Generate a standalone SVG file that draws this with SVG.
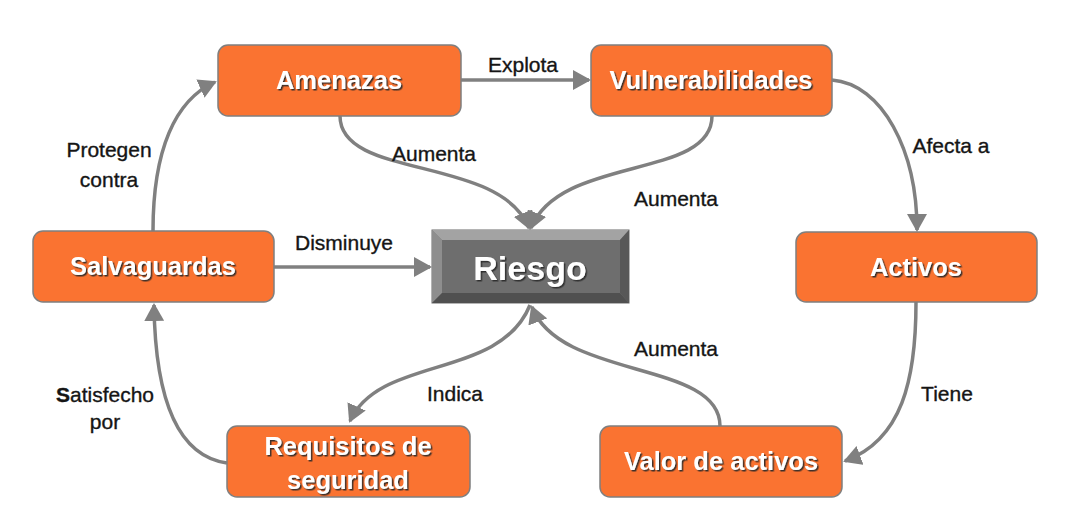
<svg xmlns="http://www.w3.org/2000/svg" width="1067" height="532" viewBox="0 0 1067 532">
  <defs>
    <style>
      .box { fill: #FA7331; stroke: #7f7f7f; stroke-width: 1.5; }
      .nt { font-family: "Liberation Sans", Arial, sans-serif; font-weight: bold; font-size: 25.5px; fill: #ffffff; text-anchor: middle; filter: url(#sh); }
      .lbl { font-family: "Liberation Sans", Arial, sans-serif; font-size: 21px; fill: #151515; stroke: #151515; stroke-width: 0.35; text-anchor: middle; }
      .con { fill: none; stroke: #808080; stroke-width: 3.5; marker-end: url(#ah); }
    </style>
    <filter id="sh" x="-10%" y="-30%" width="120%" height="160%">
      <feDropShadow dx="1.5" dy="1.5" stdDeviation="0.6" flood-color="#2a2a2a" flood-opacity="0.9"/>
    </filter>
    <marker id="ah" viewBox="0 0 18 20" refX="16" refY="10" markerWidth="18" markerHeight="20" markerUnits="userSpaceOnUse" orient="auto">
      <path d="M0,0 L18,10 L0,20 z" fill="#808080"/>
    </marker>
  </defs>
  <rect width="1067" height="532" fill="#ffffff"/>

  <g id="connectors">
    <path class="con" d="M461,80 L589,80"/>
    <path class="con" d="M832,80 C 882,84 917,150 917,230"/>
    <path class="con" d="M916,302 C 916,380 902,440 845,461"/>
    <path class="con" d="M720,426 C 720,360 560,380 532,307"/>
    <path class="con" d="M530,305 C 500,380 380,355 350,421"/>
    <path class="con" d="M227,463 C 170,455 155,380 154,305"/>
    <path class="con" d="M153,231 C 153,150 175,100 215,82"/>
    <path class="con" d="M274,267 L430,267"/>
    <path class="con" d="M340,116 C 340,180 500,155 529,228"/>
    <path class="con" d="M712,116 C 712,180 560,155 531,228"/>
    <text class="lbl" x="523" y="72">Explota</text>
    <text class="lbl" x="434" y="161">Aumenta</text>
    <text class="lbl" x="676" y="206">Aumenta</text>
    <text class="lbl" x="951" y="153">Afecta a</text>
    <text class="lbl" x="344" y="250">Disminuye</text>
    <text class="lbl" x="109" y="157">Protegen</text>
    <text class="lbl" x="109" y="187">contra</text>
    <text class="lbl" x="105" y="402"><tspan font-weight="bold">S</tspan>atisfecho</text>
    <text class="lbl" x="105" y="429">por</text>
    <text class="lbl" x="455" y="401">Indica</text>
    <text class="lbl" x="676" y="356">Aumenta</text>
    <text class="lbl" x="947" y="401">Tiene</text>
  </g>

  <g id="amenazas">
    <rect class="box" x="218" y="45" width="243" height="71" rx="10"/>
    <text class="nt" x="339" y="89">Amenazas</text>
  </g>
  <g id="vulnerabilidades">
    <rect class="box" x="591" y="45" width="241" height="71" rx="10"/>
    <text class="nt" x="711" y="89">Vulnerabilidades</text>
  </g>
  <g id="salvaguardas">
    <rect class="box" x="33" y="231" width="241" height="71" rx="10"/>
    <text class="nt" x="153" y="275">Salvaguardas</text>
  </g>
  <g id="activos">
    <rect class="box" x="796" y="232" width="241" height="70" rx="10"/>
    <text class="nt" x="916" y="276">Activos</text>
  </g>
  <g id="requisitos">
    <rect class="box" x="227" y="426" width="243" height="71" rx="10"/>
    <text class="nt" x="348" y="455">Requisitos de</text>
    <text class="nt" x="348" y="489">seguridad</text>
  </g>
  <g id="valor">
    <rect class="box" x="600" y="426" width="242" height="71" rx="10"/>
    <text class="nt" x="721" y="470">Valor de activos</text>
  </g>
  <g id="riesgo">
    <rect x="432" y="230" width="197" height="73" fill="#7a7a7a" stroke="#6a6a6a" stroke-width="1"/>
    <polygon points="432,230 629,230 620,240 442,240" fill="#a3a3a3"/>
    <polygon points="432,230 442,240 442,293 432,303" fill="#8e8e8e"/>
    <polygon points="629,230 629,303 620,293 620,240" fill="#585858"/>
    <polygon points="432,303 442,293 620,293 629,303" fill="#505050"/>
    <rect x="442" y="240" width="178" height="53" fill="#6e6e6e"/>
    <text class="nt" x="530" y="280" style="font-size:34px">Riesgo</text>
  </g>
</svg>
